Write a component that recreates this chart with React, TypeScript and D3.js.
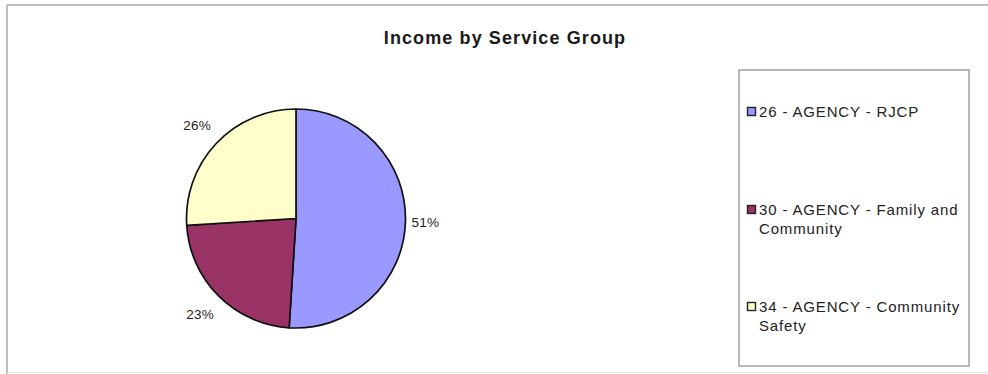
import React from "react";
import * as d3 from "d3";

const title = "Income by Service Group";
const categories = [
  "26 - AGENCY - RJCP",
  "30 - AGENCY - Family and Community",
  "34 - AGENCY - Community Safety",
];
const values = [51, 23, 26];
const colors = ["#9999FF", "#993366", "#FFFFCC"];

const W = 988;
const H = 374;

function wrap(label: string, maxChars: number): string[] {
  const words = label.split(" ");
  const lines: string[] = [];
  let cur = "";
  for (const w of words) {
    const next = cur ? cur + " " + w : w;
    if (next.length > maxChars && cur) {
      lines.push(cur);
      cur = w;
    } else cur = next;
  }
  if (cur) lines.push(cur);
  return lines;
}

export default function App() {
  const cx = 296;
  const cy = 218.5;
  const r = 109.5;
  const total = d3.sum(values);
  const pie = d3
    .pie<number>()
    .sort(null)
    .startAngle(0)
    .endAngle(2 * Math.PI)
    .value((d) => d);
  const arcs = pie(values);
  const arc = d3.arc<d3.PieArcDatum<number>>().innerRadius(0).outerRadius(r);

  const font = "'Liberation Sans', Arial, Helvetica, sans-serif";
  const lw = 27;
  const lh = 30;

  const legendX = 739;
  const legendY = 70;
  const legendW = 230;
  const legendH = 296;
  const itemY = [112, 210, 307];

  return (
    <svg
      width={W}
      height={H}
      style={{ position: "absolute", left: 0, top: 0, background: "#fff" }}
      fontFamily={font}
    >
      <rect x={0} y={0} width={W} height={H} fill="#fff" />
      {/* outer frame */}
      <line x1={7} y1={5} x2={W} y2={5} stroke="#a8a8a8" strokeWidth={1.5} />
      <line x1={7} y1={5} x2={7} y2={H} stroke="#a8a8a8" strokeWidth={1.5} />
      <line x1={7} y1={H - 1.5} x2={W} y2={H - 1.5} stroke="#e4e4e4" strokeWidth={1} />

      <text
        x={505}
        y={43.5}
        textAnchor="middle"
        fontSize={18}
        fontWeight="bold"
        letterSpacing={1.1}
        fill="#1a1a1a"
      >
        {title}
      </text>

      <g transform={`translate(${cx},${cy})`}>
        {arcs.map((a, i) => (
          <path
            key={i}
            d={arc(a) || ""}
            fill={colors[i]}
            stroke="#111"
            strokeWidth={1.7}
            strokeLinejoin="round"
          />
        ))}
        {arcs.map((a, i) => {
          const mid = (a.startAngle + a.endAngle) / 2;
          const dx = Math.sin(mid);
          const dy = -Math.cos(mid);
          const ext = Math.abs(dx) * (lw / 2) + Math.abs(dy) * (lh / 2);
          const dist = r + 6 + ext;
          const pct = Math.round((values[i] / total) * 100);
          return (
            <text
              key={"l" + i}
              x={dx * dist}
              y={dy * dist}
              dy="0.35em"
              textAnchor="middle"
              fontSize={13.5}
              letterSpacing={0.3}
              fill="#222"
            >
              {pct + "%"}
            </text>
          );
        })}
      </g>

      {/* legend */}
      <rect
        x={legendX}
        y={legendY}
        width={legendW}
        height={legendH}
        fill="#fff"
        stroke="#a0a0a0"
        strokeWidth={1.5}
      />
      {categories.map((c, i) => {
        const lines = wrap(c, 24);
        return (
          <g key={"lg" + i}>
            <rect
              x={747.5}
              y={itemY[i] - 4.5}
              width={8}
              height={8}
              fill={colors[i]}
              stroke="#222"
              strokeWidth={1.4}
            />
            <text fontSize={15} letterSpacing={0.85} fill="#222">
              {lines.map((ln, j) => (
                <tspan key={j} x={759} y={itemY[i] + j * 19} dy="0.35em">
                  {ln}
                </tspan>
              ))}
            </text>
          </g>
        );
      })}
    </svg>
  );
}
